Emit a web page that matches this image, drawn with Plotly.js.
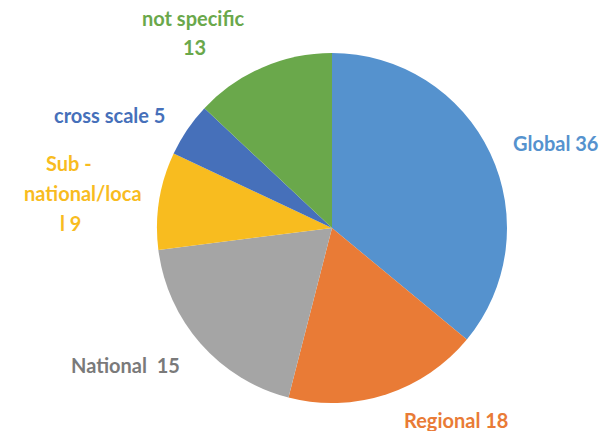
<!DOCTYPE html>
<html><head><meta charset="utf-8">
<script src="https://cdn.plot.ly/plotly-3.0.1.min.js"></script>
<style>html,body{margin:0;padding:0;background:#fff}#chart{width:599px;height:431px}</style>
</head><body><div id="chart"></div>
<script>
const categories = ["Global", "Regional", "National", "Sub-national/local", "cross scale", "not specific"];
// slice sizes as drawn in the picture (measured from the slice angles)
const values = [36, 18, 19, 9, 5, 13];
// numbers as printed in the labels
const labelValues = [36, 18, 15, 9, 5, 13];
const colors = ["#5592CE", "#E97B36", "#A5A5A5", "#F8BC1F", "#4670BA", "#6AA84B"];
const textColors = ["#5592CE", "#E97B36", "#7A7A7A", "#F8BC1F", "#4670BA", "#6AA84B"];
// displayed label lines (as broken in the original chart)
const labelLines = [
  ["Global " + labelValues[0]],
  ["Regional " + labelValues[1]],
  ["National  " + labelValues[2]],
  ["Sub -", "national/loca", "l " + labelValues[3]],
  ["cross scale " + labelValues[4]],
  ["not specific", String(labelValues[5])]
];
// per-line centre positions in pixels
const linePos = [
  [[555,143]],
  [[456,420]],
  [[125,365]],
  [[69,163],[83,193],[70,223]],
  [[110,115]],
  [[193,18],[194,47]]
];

const W = 599, H = 431;
const annotations = [];
labelLines.forEach((lines, i) => {
  lines.forEach((t, j) => {
    annotations.push({
      text: t, showarrow: false, xref: 'paper', yref: 'paper',
      x: linePos[i][j][0] / W, y: 1 - linePos[i][j][1] / H,
      xanchor: 'center', yanchor: 'middle',
      font: {family: 'Lato, "Open Sans", sans-serif', size: 20, color: textColors[i], weight: 700}
    });
  });
});

const cx = 332, cy = 228, r = 175;
Plotly.newPlot('chart', [{
  type: 'pie',
  labels: categories,
  values: values,
  sort: false,
  direction: 'clockwise',
  rotation: 0,
  textinfo: 'none',
  hoverinfo: 'label+value',
  marker: {colors: colors, line: {color: '#ffffff', width: 0}},
  domain: {x: [(cx - r) / W, (cx + r) / W], y: [1 - (cy + r) / H, 1 - (cy - r) / H]}
}], {
  width: W, height: H,
  margin: {l: 0, r: 0, t: 0, b: 0},
  showlegend: false,
  paper_bgcolor: '#ffffff',
  annotations: annotations
}, {displayModeBar: false, staticPlot: true});
</script></body></html>
